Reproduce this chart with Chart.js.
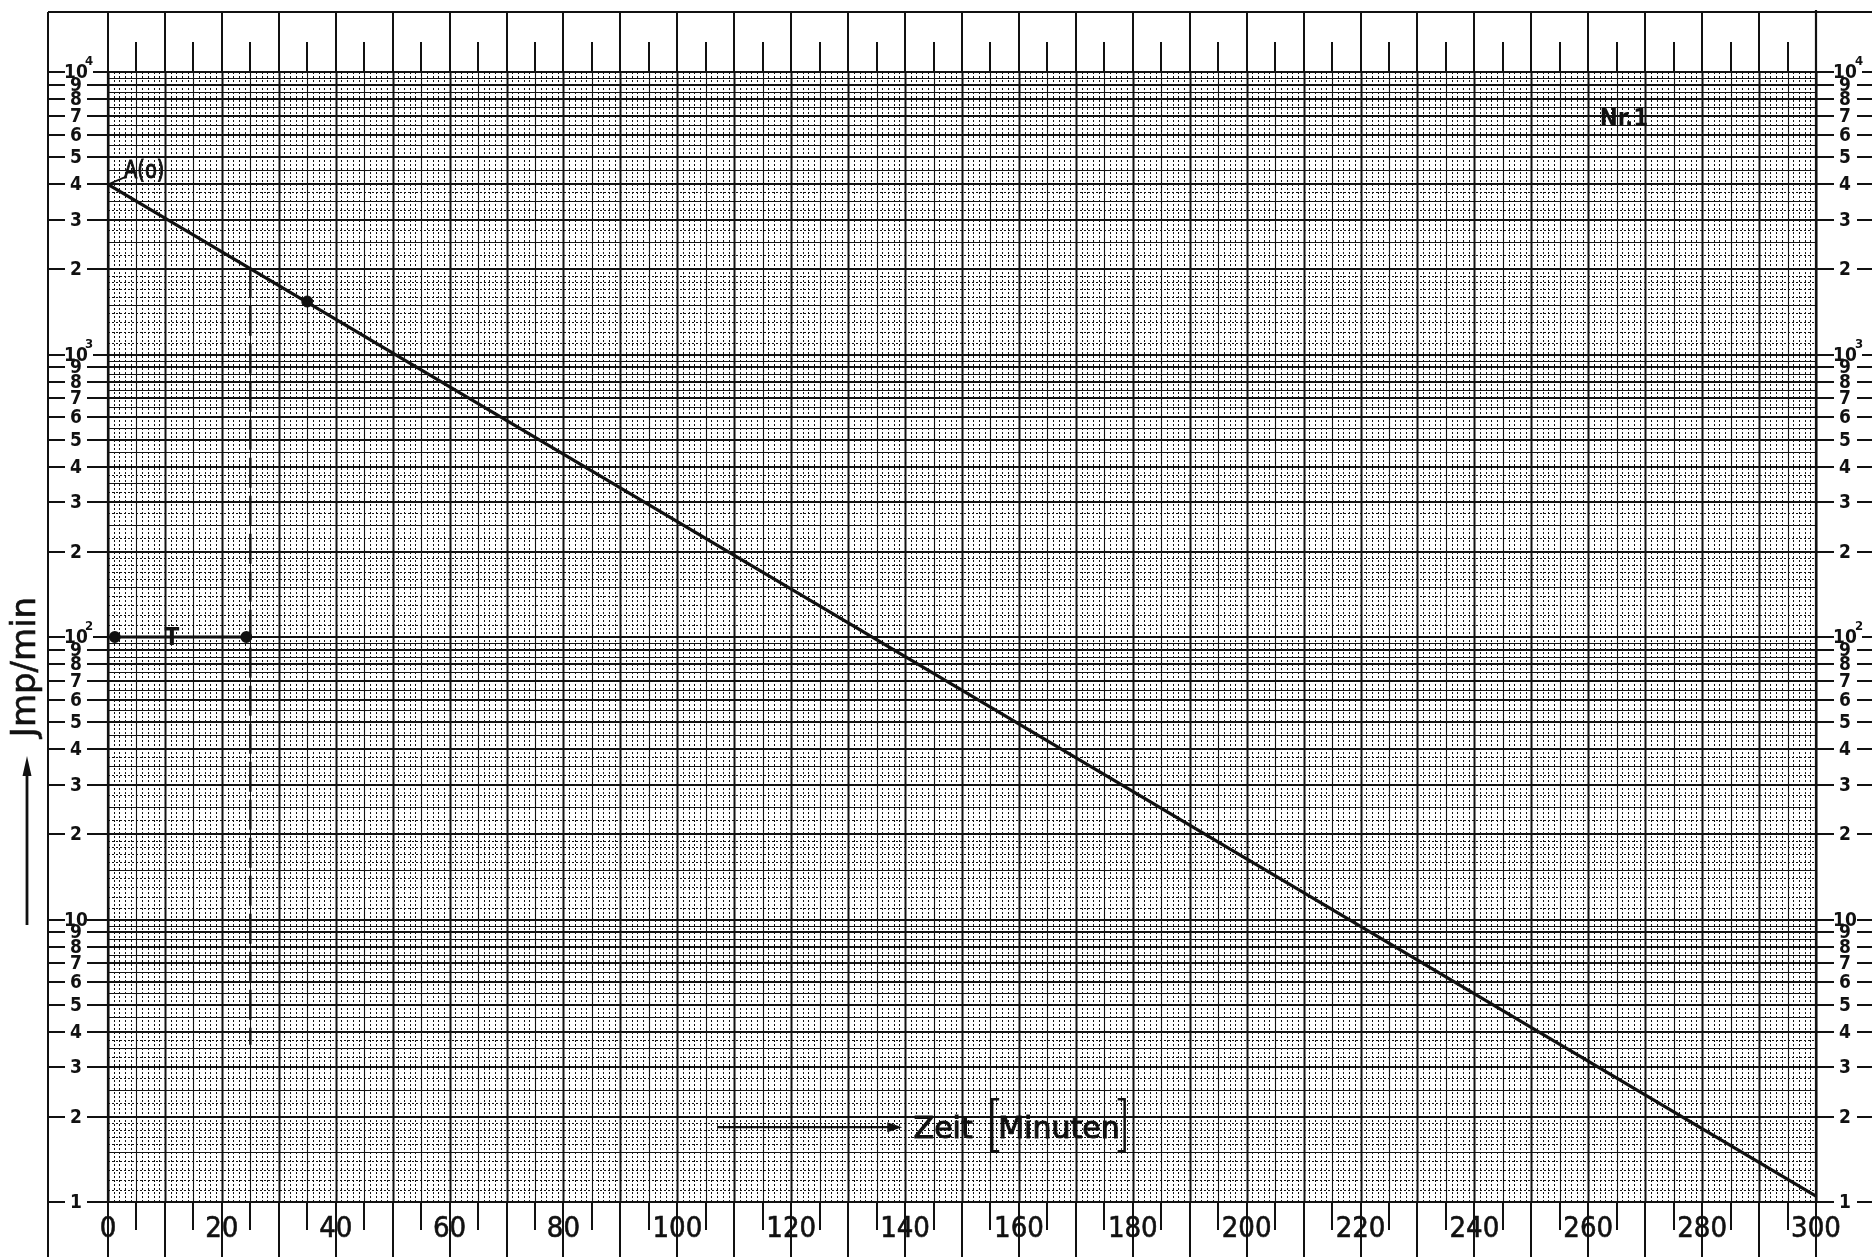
<!DOCTYPE html>
<html>
<head>
<meta charset="utf-8">
<script src="https://cdn.jsdelivr.net/npm/chart.js@4.4.0/dist/chart.umd.min.js"></script>
<style>
  html, body { margin: 0; padding: 0; background: #fff; }
  #wrap { width: 1872px; height: 1257px; position: relative; }
</style>
</head>
<body>
<div id="wrap"><canvas id="decayChart"></canvas></div>
<script>
// Zerfallskurve Nr. 1
const decayTimes = [0, 300];            // Minuten
const decayRates = [4000, 1.05];        // Jmp/min
const measuredTimes = [35];
const measuredRates = [1540];
const halfBarTimes = [1.2, 24.3];       // the "T" bar at 10^2
const halfBarRates = [100, 100];
const halfDropTimes = [25, 25];         // dashed drop from A(0)/2
const halfDropRates = [2030, 3.6];
const startMarkTimes = [0, 3.3];        // little stroke to "A(o)"
const startMarkRates = [4000, 4270];

const xTickLabels = [0, 20, 40, 60, 80, 100, 120, 140, 160, 180, 200, 220, 240, 260, 280, 300];
const yDecades = [1, 10, 100, 1000, 10000];
const yMantissas = [2, 3, 4, 5, 6, 7, 8, 9];

const INK = '#111';
const tickFont = "bold 19px 'DejaVu Sans Condensed', 'DejaVu Sans', sans-serif";
const supFont = "bold 13px 'DejaVu Sans Condensed', 'DejaVu Sans', sans-serif";

function pts(xs, ys) {
    return xs.map((t, i) => ({ x: t, y: ys[i] }));
}

function hLine(ctx, x1, x2, yy, w) {
    ctx.lineWidth = w;
    ctx.beginPath();
    ctx.moveTo(x1, yy);
    ctx.lineTo(x2, yy);
    ctx.stroke();
}

function vLine(ctx, xx, y1, y2, w) {
    ctx.lineWidth = w;
    ctx.beginPath();
    ctx.moveTo(xx, y1);
    ctx.lineTo(xx, y2);
    ctx.stroke();
}

// text squeezed horizontally, with a thin stroke to thicken it
function inkText(ctx, txt, px, py, sx, stroke) {
    ctx.save();
    ctx.translate(px, py);
    ctx.scale(sx, 1);
    ctx.fillText(txt, 0, 0);
    if (stroke) {
        ctx.lineWidth = stroke;
        ctx.strokeText(txt, 0, 0);
    }
    ctx.restore();
}

// graph paper, side scales and strips
const paperPlugin = {
    id: 'paper',
    beforeDatasetsDraw(chart) {
        const { ctx, chartArea: a, scales: { x, y } } = chart;
        const W = chart.width, H = chart.height;
        ctx.save();
        ctx.strokeStyle = INK;

        // vertical lines, one per minute
        for (let t = 0; t <= 300; t++) {
            const px = Math.round(x.getPixelForValue(t)) + 0.5;
            if (t % 10 === 0) {
                ctx.setLineDash([]);
                vLine(ctx, px, a.top, a.bottom, 2);
            } else if (t % 5 === 0) {
                ctx.setLineDash([]);
                vLine(ctx, px, a.top, a.bottom, 1.1);
            } else {
                ctx.setLineDash([2, 2]);
                vLine(ctx, px, a.top, a.bottom, 1);
            }
        }

        // horizontal lines per decade
        for (let d = 0; d < 4; d++) {
            const D = yDecades[d];
            const solid = [], dotted = [];
            for (let k = 1; k <= 9; k++) {
                const m = 1 + k / 10;
                if (k === 5) solid.push(m); else dotted.push(m);
            }
            [2.5, 3.5, 4.5, 5.5, 6.5, 7.5, 8.5, 9.5].forEach(m => solid.push(m));
            [2.25, 2.75, 3.25, 3.75].forEach(m => dotted.push(m));
            ctx.setLineDash([2, 2]);
            dotted.forEach(m => {
                const py = Math.round(y.getPixelForValue(D * m)) + 0.5;
                hLine(ctx, a.left, a.right, py, 1);
            });
            ctx.setLineDash([]);
            solid.forEach(m => {
                const py = Math.round(y.getPixelForValue(D * m)) + 0.5;
                hLine(ctx, a.left, a.right, py, 1.1);
            });
            yMantissas.forEach(m => {
                const py = Math.round(y.getPixelForValue(D * m));
                hLine(ctx, a.left, a.right, py, 1.8);
            });
        }
        yDecades.forEach(v => {
            hLine(ctx, a.left, a.right, Math.round(y.getPixelForValue(v)), 2.2);
        });

        // plot border
        ctx.setLineDash([]);
        vLine(ctx, a.left, a.top, a.bottom, 2.2);
        vLine(ctx, a.right, 10, a.bottom, 2.2);

        // outer frame
        const frameX = 48, frameY = 12;
        vLine(ctx, frameX, frameY, H, 2);
        hLine(ctx, frameX, W, frameY, 2);

        // top and bottom strips
        for (let t = 0; t <= 300; t += 5) {
            const px = Math.round(x.getPixelForValue(t));
            if (t % 10 === 0) {
                vLine(ctx, px, frameY, a.top, 2);
                vLine(ctx, px, a.bottom, H, 2);
            } else {
                vLine(ctx, px, frameY + 30, a.top, 2);
                vLine(ctx, px, a.bottom, a.bottom + 28, 2);
            }
        }

        // x labels
        ctx.fillStyle = INK;
        ctx.strokeStyle = INK;
        ctx.font = "29px 'DejaVu Sans Condensed', 'DejaVu Sans', sans-serif";
        ctx.textAlign = 'center';
        ctx.textBaseline = 'middle';
        xTickLabels.forEach(t => {
            inkText(ctx, String(t), x.getPixelForValue(t), a.bottom + 27, 1, 0.6);
        });

        // y scales, left and right
        const yTicks = [];
        for (let d = 0; d < 4; d++) {
            yTicks.push({ v: yDecades[d], e: d });
            yMantissas.forEach(m => yTicks.push({ v: yDecades[d] * m, m: m }));
        }
        yTicks.push({ v: 10000, e: 4 });

        yTicks.forEach(tk => {
            const py = Math.round(y.getPixelForValue(tk.v));
            const isSup = tk.e !== undefined && tk.e >= 2;
            // left
            hLine(ctx, frameX, 65, py, 2);
            hLine(ctx, isSup ? 93 : 87, a.left, py, 2);
            // right
            hLine(ctx, a.right, a.right + 18, py, 2);
            hLine(ctx, isSup ? a.right + 46 : a.right + 41, W, py, 2);

            ctx.font = tickFont;
            ctx.textAlign = 'center';
            ctx.textBaseline = 'middle';
            let txt;
            if (tk.e === undefined) txt = String(tk.m);
            else txt = tk.e === 0 ? '1' : '10';
            ctx.fillText(txt, 76, py + 1);
            ctx.fillText(txt, a.right + 29, py + 1);
            if (isSup) {
                ctx.font = supFont;
                ctx.textAlign = 'left';
                ctx.fillText(String(tk.e), 85, py - 10);
                ctx.fillText(String(tk.e), a.right + 39, py - 10);
            }
        });
        ctx.restore();
    },
    afterDatasetsDraw(chart) {
        const { ctx, scales: { x, y } } = chart;
        ctx.save();
        ctx.fillStyle = INK;
        ctx.strokeStyle = INK;
        ctx.setLineDash([]);

        // A(o)
        ctx.font = "25px 'DejaVu Sans', sans-serif";
        ctx.textAlign = 'left';
        ctx.textBaseline = 'middle';
        inkText(ctx, 'A(o)', x.getPixelForValue(2.8), y.getPixelForValue(4450), 0.78, 1);

        // T
        ctx.font = "bold 24px 'DejaVu Sans', sans-serif";
        ctx.textAlign = 'center';
        inkText(ctx, 'T', x.getPixelForValue(11.2), y.getPixelForValue(100) + 2, 0.9, 0);

        // Nr.1
        ctx.font = "bold 24px 'DejaVu Sans Condensed', 'DejaVu Sans', sans-serif";
        ctx.textAlign = 'left';
        inkText(ctx, 'Nr.1', x.getPixelForValue(262), y.getPixelForValue(6800), 1, 0);

        // Zeit [Minuten]
        const ay = y.getPixelForValue(1.84);
        const ax1 = x.getPixelForValue(107), ax2 = x.getPixelForValue(139.5);
        hLine(ctx, ax1, ax2 - 8, ay, 2.2);
        ctx.beginPath();
        ctx.moveTo(ax2, ay);
        ctx.lineTo(ax2 - 15, ay - 5);
        ctx.lineTo(ax2 - 15, ay + 5);
        ctx.closePath();
        ctx.fill();
        ctx.font = "30px 'DejaVu Sans', sans-serif";
        ctx.textAlign = 'left';
        ctx.textBaseline = 'middle';
        const zx = x.getPixelForValue(141.5);
        inkText(ctx, 'Zeit', zx, ay + 3, 1, 1);
        const bx1 = x.getPixelForValue(155.3);
        inkText(ctx, 'Minuten', bx1 + 6, ay + 3, 1, 1);
        const bw = ctx.measureText('Minuten').width;
        const bx2 = bx1 + 6 + bw + 5;
        ctx.lineWidth = 2.5;
        ctx.beginPath();
        ctx.moveTo(bx1 + 7, ay - 28); ctx.lineTo(bx1, ay - 28);
        ctx.lineTo(bx1, ay + 24); ctx.lineTo(bx1 + 7, ay + 24);
        ctx.moveTo(bx2 - 7, ay - 28); ctx.lineTo(bx2, ay - 28);
        ctx.lineTo(bx2, ay + 24); ctx.lineTo(bx2 - 7, ay + 24);
        ctx.stroke();

        // Jmp/min
        ctx.save();
        ctx.translate(26, 667);
        ctx.rotate(-Math.PI / 2);
        ctx.font = "34px 'DejaVu Sans', sans-serif";
        ctx.textAlign = 'center';
        ctx.textBaseline = 'middle';
        ctx.fillText('Jmp/min', 0, 0);
        ctx.lineWidth = 0.6;
        ctx.strokeText('Jmp/min', 0, 0);
        ctx.restore();
        vLine(ctx, 27, 772, 925, 2.8);
        ctx.beginPath();
        ctx.moveTo(27, 756);
        ctx.lineTo(22.5, 776);
        ctx.lineTo(31.5, 776);
        ctx.closePath();
        ctx.fill();
        ctx.restore();
    }
};

function renderChart() {
    const ctx = document.getElementById('decayChart').getContext('2d');

    new Chart(ctx, {
        type: 'line',
        data: {
            datasets: [{
                label: 'Zerfall',
                data: pts(decayTimes, decayRates),
                borderColor: INK,
                borderWidth: 3.2,
                pointRadius: 0,
                tension: 0
            }, {
                label: 'Messpunkt',
                data: pts(measuredTimes, measuredRates),
                showLine: false,
                pointRadius: 5.5,
                pointBackgroundColor: INK,
                pointBorderColor: INK
            }, {
                label: 'T',
                data: pts(halfBarTimes, halfBarRates),
                borderColor: INK,
                borderWidth: 2.8,
                pointRadius: 4.5,
                pointBackgroundColor: INK,
                pointBorderColor: INK
            }, {
                label: 'Halbwert',
                data: pts(halfDropTimes, halfDropRates),
                borderColor: INK,
                borderWidth: 2.4,
                borderDash: [30, 8],
                pointRadius: 0
            }, {
                label: 'A0',
                data: pts(startMarkTimes, startMarkRates),
                borderColor: INK,
                borderWidth: 1.8,
                pointRadius: 0
            }]
        },
        options: {
            responsive: true,
            maintainAspectRatio: false,
            animation: false,
            layout: {
                padding: { left: 108, right: 56, top: 72, bottom: 55 }
            },
            plugins: {
                legend: { display: false },
                tooltip: { enabled: false }
            },
            scales: {
                x: { type: 'linear', min: 0, max: 300, display: false },
                y: { type: 'logarithmic', min: 1, max: 10000, display: false }
            }
        },
        plugins: [paperPlugin]
    });
}

renderChart();
</script>
</body>
</html>
